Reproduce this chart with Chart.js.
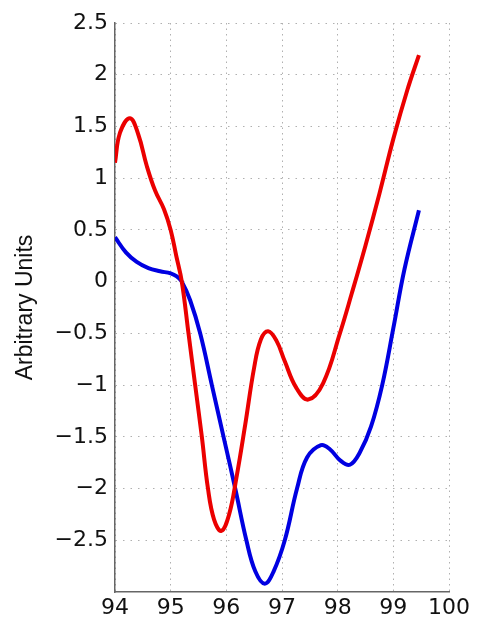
<!DOCTYPE html>
<html lang="en">
<head>
  <meta charset="UTF-8">
  <title>Arbitrary Units</title>
  <script src="https://cdn.jsdelivr.net/npm/chart.js"></script>
  <style>
    body {
      margin: 0;
      background: #fff;
    }
    .wrap {
      width: 479px;
      height: 619px;
    }
  </style>
</head>
<body>

<div class="wrap">
  <canvas id="chart"></canvas>
</div>

<script>
  // red curve (x, y)
  const redX = [94.0, 94.09, 94.27, 94.42, 94.57, 94.72, 94.88, 95.0, 95.1, 95.2, 95.32, 95.44, 95.56, 95.67, 95.78, 95.91, 96.05, 96.18, 96.34, 96.5, 96.62, 96.75, 96.9, 97.05, 97.25, 97.47, 97.74, 98.04, 98.25, 98.5, 98.75, 99.0, 99.25, 99.46];
  const redY = [1.15, 1.44, 1.58, 1.42, 1.12, 0.88, 0.7, 0.5, 0.25, 0.0, -0.5, -1.0, -1.5, -2.0, -2.3, -2.41, -2.25, -1.9, -1.38, -0.83, -0.56, -0.48, -0.57, -0.77, -1.02, -1.14, -0.98, -0.5, -0.12, 0.35, 0.85, 1.38, 1.85, 2.19];

  // blue curve (x, y)
  const blueX = [94.0, 94.2, 94.39, 94.6, 94.81, 95.0, 95.11, 95.2, 95.35, 95.53, 95.74, 95.95, 96.16, 96.36, 96.52, 96.69, 96.85, 97.05, 97.27, 97.45, 97.7, 97.86, 98.05, 98.22, 98.4, 98.6, 98.8, 99.0, 99.2, 99.46];
  const blueY = [0.43, 0.28, 0.19, 0.13, 0.1, 0.08, 0.05, 0.0, -0.18, -0.5, -1.0, -1.5, -2.0, -2.5, -2.8, -2.92, -2.8, -2.5, -2.0, -1.7, -1.58, -1.62, -1.73, -1.77, -1.65, -1.4, -1.0, -0.45, 0.12, 0.69];

  const xTicks = [94, 95, 96, 97, 98, 99, 100];
  const yLabel = 'Arbitrary Units';

  function toPoints(xs, ys) {
    return xs.map((x, i) => ({ x: x, y: ys[i] }));
  }

  const tickFont = { family: "'DejaVu Sans', sans-serif", size: 22 };

  const ctx = document.getElementById('chart').getContext('2d');
  new Chart(ctx, {
    type: 'line',
    data: {
      datasets: [
        {
          data: toPoints(redX, redY),
          borderColor: 'rgb(235, 0, 0)',
          borderWidth: 4,
          pointRadius: 0,
          tension: 0.4,
          fill: false
        },
        {
          data: toPoints(blueX, blueY),
          borderColor: 'rgb(0, 0, 225)',
          borderWidth: 4,
          pointRadius: 0,
          tension: 0.4,
          fill: false
        }
      ]
    },
    options: {
      responsive: true,
      maintainAspectRatio: false,
      animation: false,
      layout: {
        padding: { top: 23, right: 30, bottom: 0, left: 0 }
      },
      plugins: {
        legend: { display: false },
        tooltip: { enabled: false }
      },
      scales: {
        x: {
          type: 'linear',
          min: 94,
          max: 100,
          afterBuildTicks: (scale) => {
            scale.ticks = xTicks.map(v => ({ value: v }));
          },
          afterFit: (scale) => { scale.height = 27; },
          ticks: {
            font: tickFont,
            color: '#111',
            padding: 3,
            maxRotation: 0
          },
          grid: { color: '#b0b0b0', lineWidth: 1, drawTicks: false },
          border: { display: true, color: '#666', width: 1.5, dash: [1.5, 4] }
        },
        y: {
          type: 'linear',
          min: -3,
          max: 2.5,
          afterFit: (scale) => { scale.width = 115; },
          ticks: {
            stepSize: 0.5,
            font: tickFont,
            color: '#111',
            padding: 7,
            callback: (v) => v === -3 ? null : String(v).replace('-', '\u2212')
          },
          grid: { color: '#b0b0b0', lineWidth: 1, drawTicks: false },
          border: { display: true, color: '#666', width: 1.5, dash: [1.5, 6] },
          title: {
            display: true,
            text: yLabel,
            color: '#111',
            font: { family: "'Liberation Sans Narrow', 'Liberation Sans', sans-serif", size: 23 },
            padding: { top: 12, bottom: 0 }
          }
        }
      }
    }
  });
</script>

</body>
</html>
